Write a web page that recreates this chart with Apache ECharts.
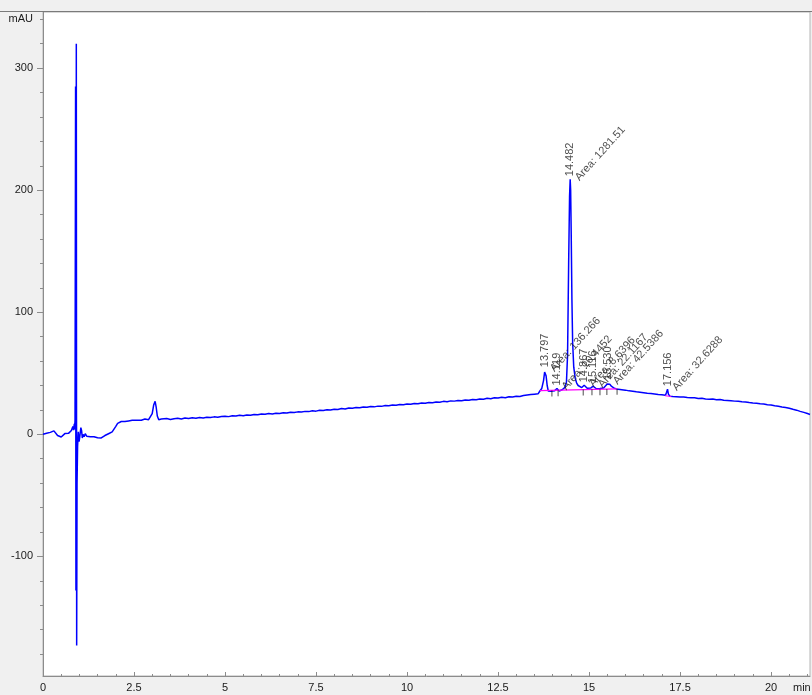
<!DOCTYPE html>
<html>
<head>
<meta charset="utf-8">
<script src="https://cdn.jsdelivr.net/npm/echarts@6/dist/echarts.min.js"></script>
<style>
  html, body { margin: 0; padding: 0; background: #f0f0f0; }
  #chart { width: 812px; height: 695px; }
</style>
</head>
<body>
<div id="chart"></div>
<script>
// Detector signal (min, mAU)
const trace = [
  [0.00, 0.0], [0.05, 0.3], [0.10, 0.8], [0.15, 0.4], [0.20, 1.6], [0.25, 2.2], [0.30, 2.8], [0.35, 1.2],
  [0.40, -1.0], [0.45, -2.6], [0.50, -2.2], [0.55, -0.8], [0.60, 0.6], [0.65, -0.4], [0.70, 0.8], [0.75, 1.8],
  [0.78, 3.2], [0.80, 2.0], [0.82, 6.5], [0.84, 3.5], [0.86, 8.5], [0.87, 4.0], [0.88, 12.0],
  [0.895, 285.0], [0.905, -128.0], [0.915, 320.0], [0.925, -173.0], [0.935, -40.0], [0.95, -10.0],
  [0.97, 2.0], [0.99, -6.0], [1.01, -2.0], [1.04, 5.5], [1.06, 3.0], [1.08, -3.0], [1.10, 0.0], [1.13, -2.0],
  [1.16, 0.5], [1.20, -1.5], [1.25, -0.5], [1.30, -2.0], [1.35, -1.0], [1.40, -2.0], [1.45, -1.0], [1.50, -2.8],
  [1.55, -2.0], [1.60, -3.0], [1.65, -1.5], [1.70, -1.0], [1.75, -1.5], [1.80, 0.5], [1.85, 0.0], [1.90, 2.0],
  [1.95, 3.5], [2.00, 6.5], [2.05, 9.0], [2.10, 9.5], [2.15, 10.5], [2.20, 11.0], [2.25, 10.5], [2.30, 11.5],
  [2.35, 11.0], [2.40, 12.0], [2.45, 11.5], [2.50, 12.0], [2.55, 11.5], [2.60, 12.0], [2.70, 11.5], [2.80, 12.5],
  [2.90, 12.0], [2.95, 13.5], [3.00, 17.0], [3.04, 24.0], [3.08, 27.0], [3.11, 22.0], [3.14, 15.0], [3.18, 12.0],
  [3.25, 12.5], [3.3, 12.4], [3.4, 12.9], [3.5, 12.2], [3.6, 12.8], [3.7, 13.1], [3.8, 12.6], [3.9, 13.3],
  [4.0, 13.0], [4.1, 13.6], [4.2, 13.2], [4.3, 13.8], [4.4, 13.4], [4.5, 14.0], [4.6, 13.7], [4.7, 14.3],
  [4.8, 14.0], [4.9, 14.6], [5.0, 14.9], [5.1, 14.5], [5.2, 15.2], [5.3, 15.0], [5.4, 15.6], [5.5, 15.3],
  [5.6, 15.9], [5.7, 15.6], [5.8, 16.3], [5.9, 16.0], [6.0, 16.6], [6.1, 16.4], [6.2, 17.0], [6.3, 16.7],
  [6.4, 17.3], [6.5, 17.1], [6.6, 17.6], [6.7, 17.4], [6.8, 18.1], [6.9, 17.8], [7.0, 18.4], [7.1, 18.2],
  [7.2, 18.8], [7.3, 18.6], [7.4, 19.3], [7.5, 19.0], [7.6, 19.7], [7.7, 19.5], [7.8, 20.1], [7.9, 19.9],
  [8.0, 20.6], [8.1, 20.4], [8.2, 21.1], [8.3, 20.8], [8.4, 21.5], [8.5, 21.3], [8.6, 21.9], [8.7, 21.7],
  [8.8, 22.4], [8.9, 22.1], [9.0, 22.8], [9.1, 22.5], [9.2, 23.1], [9.3, 22.9], [9.4, 23.6], [9.5, 23.4],
  [9.6, 24.0], [9.7, 23.8], [9.8, 24.5], [9.9, 24.2], [10.0, 24.8], [10.1, 24.6], [10.2, 25.3], [10.3, 25.0],
  [10.4, 25.7], [10.5, 25.4], [10.6, 26.1], [10.7, 25.9], [10.8, 26.5], [10.9, 26.3], [11.0, 27.0], [11.1, 26.7],
  [11.2, 27.4], [11.3, 27.2], [11.4, 27.8], [11.5, 27.5], [11.6, 28.2], [11.7, 28.0], [11.8, 28.6], [11.9, 28.4],
  [12.0, 29.0], [12.1, 28.8], [12.2, 29.5], [12.3, 29.2], [12.4, 29.9], [12.5, 29.7], [12.6, 30.3], [12.7, 30.0],
  [12.8, 30.8], [12.9, 30.5], [13.0, 31.2], [13.1, 31.0], [13.2, 31.8], [13.3, 32.2], [13.4, 32.6], [13.5, 32.9],
  [13.6, 33.2], [13.65, 35.5], [13.7, 37.5], [13.75, 44.0], [13.78, 51.0], [13.797, 52.5], [13.82, 48.0],
  [13.85, 40.0], [13.88, 35.5], [13.92, 34.5], [13.96, 35.2], [14.0, 34.8], [14.05, 35.6], [14.1, 36.8],
  [14.119, 37.5], [14.14, 36.2], [14.18, 35.5], [14.22, 36.0], [14.26, 36.5], [14.3, 37.2], [14.34, 38.5],
  [14.38, 43.0], [14.41, 65.0], [14.44, 140.0], [14.465, 195.0], [14.482, 209.0], [14.495, 200.0],
  [14.51, 165.0], [14.53, 110.0], [14.55, 75.0], [14.58, 55.0], [14.62, 46.0], [14.66, 42.0], [14.7, 40.0],
  [14.75, 38.8], [14.8, 38.3], [14.84, 39.0], [14.867, 40.2], [14.9, 39.0], [14.95, 37.8], [15.0, 37.4],
  [15.05, 38.0], [15.09, 38.8], [15.116, 39.4], [15.15, 38.2], [15.2, 37.3], [15.25, 37.0], [15.3, 37.6],
  [15.35, 37.2], [15.4, 38.0], [15.45, 39.5], [15.5, 41.2], [15.53, 42.0], [15.57, 41.0], [15.62, 39.2],
  [15.68, 38.0], [15.75, 37.2], [15.8, 37.4], [15.9, 36.6], [16.0, 36.2], [16.1, 35.6], [16.2, 35.3],
  [16.3, 34.8], [16.4, 34.4], [16.5, 34.0], [16.6, 33.6], [16.7, 33.4], [16.8, 33.0], [16.9, 32.6],
  [17.0, 32.4], [17.05, 31.8], [17.1, 32.0], [17.13, 34.5], [17.156, 37.0], [17.18, 33.0], [17.22, 31.2],
  [17.3, 31.0], [17.4, 30.8], [17.5, 30.5], [17.6, 30.6], [17.7, 30.2], [17.8, 29.9], [17.9, 30.0],
  [18.0, 29.4], [18.1, 29.6], [18.2, 29.0], [18.3, 28.8], [18.4, 28.9], [18.5, 28.3], [18.6, 28.5],
  [18.7, 27.9], [18.8, 27.8], [18.9, 27.5], [19.0, 27.2], [19.1, 27.0], [19.2, 26.6], [19.3, 26.5],
  [19.4, 26.0], [19.5, 25.7], [19.6, 25.5], [19.7, 25.0], [19.8, 24.8], [19.9, 24.3], [20.0, 24.0],
  [20.1, 23.4], [20.2, 23.0], [20.3, 22.4], [20.4, 22.0], [20.5, 21.3], [20.6, 20.5], [20.7, 19.8],
  [20.8, 18.8], [20.9, 18.0], [21.0, 17.0], [21.07, 16.3]
];

// Integrated peaks: retention time and area text
const peakTimes = [13.797, 14.119, 14.482, 14.867, 15.116, 15.530, 17.156];
const peakTimeLabels = ['13.797', '14.119', '14.482', '14.867', '15.116', '15.530', '17.156'];
const peakAreaLabels = ['Area: 136.266', 'Area: 10.4452', 'Area: 1281.51', 'Area: 8.6396', 'Area: 22.1167', 'Area: 42.5386', 'Area: 32.6288'];

// Integration baselines (magenta) and peak boundary marks
const baselineSegments = [
  [[13.65, 35.8], [15.77, 37.3]],
  [[17.09, 31.6], [17.26, 31.0]]
];
const boundaryMarks = [[13.98, 36.0], [14.15, 36.2], [14.84, 36.7], [15.08, 36.9], [15.30, 37.0], [15.49, 37.1], [15.77, 37.3]];

// Axis ticks
const xMajorTicks = [0, 2.5, 5, 7.5, 10, 12.5, 15, 17.5, 20];
const xMinorTicks = [0.5, 1, 1.5, 2, 3, 3.5, 4, 4.5, 5.5, 6, 6.5, 7, 8, 8.5, 9, 9.5, 10.5, 11, 11.5, 12, 13, 13.5, 14, 14.5, 15.5, 16, 16.5, 17, 18, 18.5, 19, 19.5, 20.5, 21];
const yMajorTicks = [-100, 0, 100, 200, 300];
const yMinorTicks = [-180, -160, -140, -120, -80, -60, -40, -20, 20, 40, 60, 80, 120, 140, 160, 180, 220, 240, 260, 280, 320, 340];
const yUnitTick = 340;

function valueAt(t) {
  const p = trace.find(d => Math.abs(d[0] - t) < 1e-6);
  return p ? p[1] : 0;
}

const FONT = 'Liberation Sans';
const AREA_ROT = 48;
const rad = AREA_ROT * Math.PI / 180;
// shift area text a few pixels right of the apex (expressed in the label's rotated frame)
const areaShift = 7;

const chart = echarts.init(document.getElementById('chart'), null, { renderer: 'canvas' });

const axisGray = '#8c8c8c';

chart.setOption({
  animation: false,
  backgroundColor: '#f0f0f0',
  grid: {
    left: 43, top: 12, right: 2, bottom: 19,
    show: true, backgroundColor: '#ffffff', borderColor: '#b4b4b4', borderWidth: 1
  },
  xAxis: [
    {
      type: 'value', min: 0, max: 21.07,
      axisLine: { show: true, onZero: false, lineStyle: { color: axisGray, width: 1 } },
      axisTick: { show: true, inside: true, length: 4, customValues: xMajorTicks, lineStyle: { color: axisGray } },
      axisLabel: { show: true, customValues: xMajorTicks, margin: 6, color: '#1a1a1a', fontFamily: FONT, fontSize: 11,
        formatter: v => String(v) },
      splitLine: { show: false }
    },
    {
      type: 'value', min: 0, max: 21.07, position: 'bottom',
      axisLine: { show: false, onZero: false },
      axisTick: { show: true, inside: true, length: 2, customValues: xMinorTicks, lineStyle: { color: axisGray } },
      axisLabel: { show: false },
      splitLine: { show: false }
    }
  ],
  yAxis: [
    {
      type: 'value', min: -198, max: 346,
      axisLine: { show: true, onZero: false, lineStyle: { color: axisGray, width: 1 } },
      axisTick: { show: true, length: 6, customValues: yMajorTicks, lineStyle: { color: axisGray } },
      axisLabel: { show: true, customValues: yMajorTicks.concat([yUnitTick]), margin: 10, color: '#1a1a1a',
        fontFamily: FONT, fontSize: 11, formatter: v => (v === yUnitTick ? 'mAU' : String(v)) },
      splitLine: { show: false }
    },
    {
      type: 'value', min: -198, max: 346, position: 'left',
      axisLine: { show: false, onZero: false },
      axisTick: { show: true, length: 3, customValues: yMinorTicks, lineStyle: { color: axisGray } },
      axisLabel: { show: false },
      splitLine: { show: false }
    }
  ],
  graphic: [
    { type: 'line', shape: { x1: 0, y1: 11.5, x2: 812, y2: 11.5 }, style: { stroke: '#7a7a7a', lineWidth: 1 }, z: 100 },
    { type: 'text', left: 793, top: 682, style: { text: 'min', font: '11px ' + FONT, fill: '#1a1a1a' } }
  ],
  series: [
    {
      type: 'line', name: 'signal', xAxisIndex: 0, yAxisIndex: 0,
      data: trace, showSymbol: false, symbol: 'none',
      lineStyle: { color: '#0000ff', width: 1.5 }, z: 3
    },
    ...baselineSegments.map(seg => ({
      type: 'line', data: seg, showSymbol: false, symbol: 'none',
      lineStyle: { color: '#ff00ff', width: 1.2 }, z: 4
    })),
    {
      type: 'scatter', data: boundaryMarks, symbol: 'rect', symbolSize: [1, 6],
      symbolOffset: [0, 3], itemStyle: { color: '#202020' }, z: 5
    },
    {
      type: 'scatter', name: 'rt',
      data: peakTimes.map((t, i) => ({ value: [t, valueAt(t)], name: peakTimeLabels[i] })),
      symbolSize: 0, z: 6,
      label: {
        show: true, position: [0, 0], rotate: 90, align: 'left', verticalAlign: 'middle',
        offset: [3, 0], formatter: p => p.name, color: '#222', fontFamily: FONT, fontSize: 11
      }
    },
    {
      type: 'scatter', name: 'area',
      data: peakTimes.map((t, i) => ({ value: [t, valueAt(t)], name: peakAreaLabels[i] })),
      symbolSize: 0, z: 6,
      label: {
        show: true, position: [0, 0], rotate: AREA_ROT, align: 'left', verticalAlign: 'middle',
        offset: [areaShift * Math.cos(rad), areaShift * Math.sin(rad)],
        formatter: p => p.name, color: '#222', fontFamily: FONT, fontSize: 11
      }
    }
  ]
});
</script>
</body>
</html>
